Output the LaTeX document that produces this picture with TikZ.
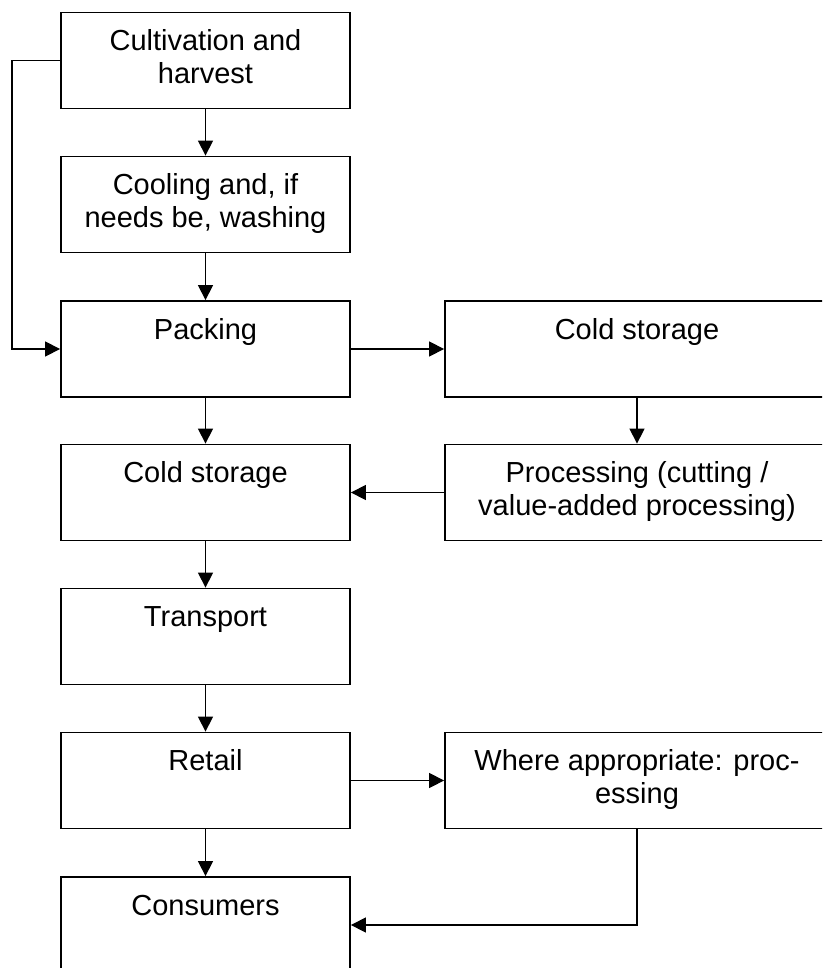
\documentclass[tikz,border=0pt]{standalone}
\usepackage{fontspec}
\setmainfont{Liberation Sans}
\usetikzlibrary{arrows.meta}
\newcommand{\bxtext}[2]{\parbox[c][96pt][t]{#1}{\centering\rule{0pt}{38pt}#2}}
\begin{document}
\begin{tikzpicture}[x=1pt,y=-1pt,
  box/.style={draw, line width=1.8pt, inner sep=0pt, minimum height=96pt, font=\fontsize{29}{33}\selectfont},
  lbox/.style={box, minimum width=289pt},
  rbox/.style={box, minimum width=384pt},
  conn/.style={line width=1.3pt, -{Triangle[length=15pt,width=15pt]}}]
\useasboundingbox (0,0) rectangle (822,968);
\clip (0,0) rectangle (822,968);
\node[lbox] (c1) at (205.5,60.5) {\bxtext{280pt}{Cultivation and\\harvest}};
\node[lbox] (c2) at (205.5,204.5) {\bxtext{280pt}{Cooling and, if\\needs be, washing}};
\node[lbox] (c3) at (205.5,349) {\bxtext{280pt}{Packing}};
\node[lbox] (c4) at (205.5,492.5) {\bxtext{280pt}{Cold storage}};
\node[lbox] (c5) at (205.5,636.5) {\bxtext{280pt}{Transport}};
\node[lbox] (c6) at (205.5,780.5) {\bxtext{280pt}{Retail}};
\node[lbox] (c7) at (205.5,925) {\bxtext{280pt}{Consumers}};
\node[rbox] (r1) at (637,349) {\bxtext{375pt}{Cold storage}};
\node[rbox] (r2) at (637,492.5) {\bxtext{375pt}{Processing (cutting /\\value-added processing)}};
\node[rbox] (r3) at (637,780.5) {\bxtext{375pt}{Where appropriate: proc-\\essing}};
\draw[conn] (c1.south) -- (c2.north);
\draw[conn] (c2.south) -- (c3.north);
\draw[conn] (c1.west) -- ++(-48,0) |- (c3.west);
\draw[conn] (c3.east) -- (r1.west);
\draw[conn] (r1.south) -- (r2.north);
\draw[conn] (r2.west) -- (c4.east);
\draw[conn] (c3.south) -- (c4.north);
\draw[conn] (c4.south) -- (c5.north);
\draw[conn] (c5.south) -- (c6.north);
\draw[conn] (c6.east) -- (r3.west);
\draw[conn] (c6.south) -- (c7.north);
\draw[conn] (r3.south) |- (c7.east);
\end{tikzpicture}
\end{document}
